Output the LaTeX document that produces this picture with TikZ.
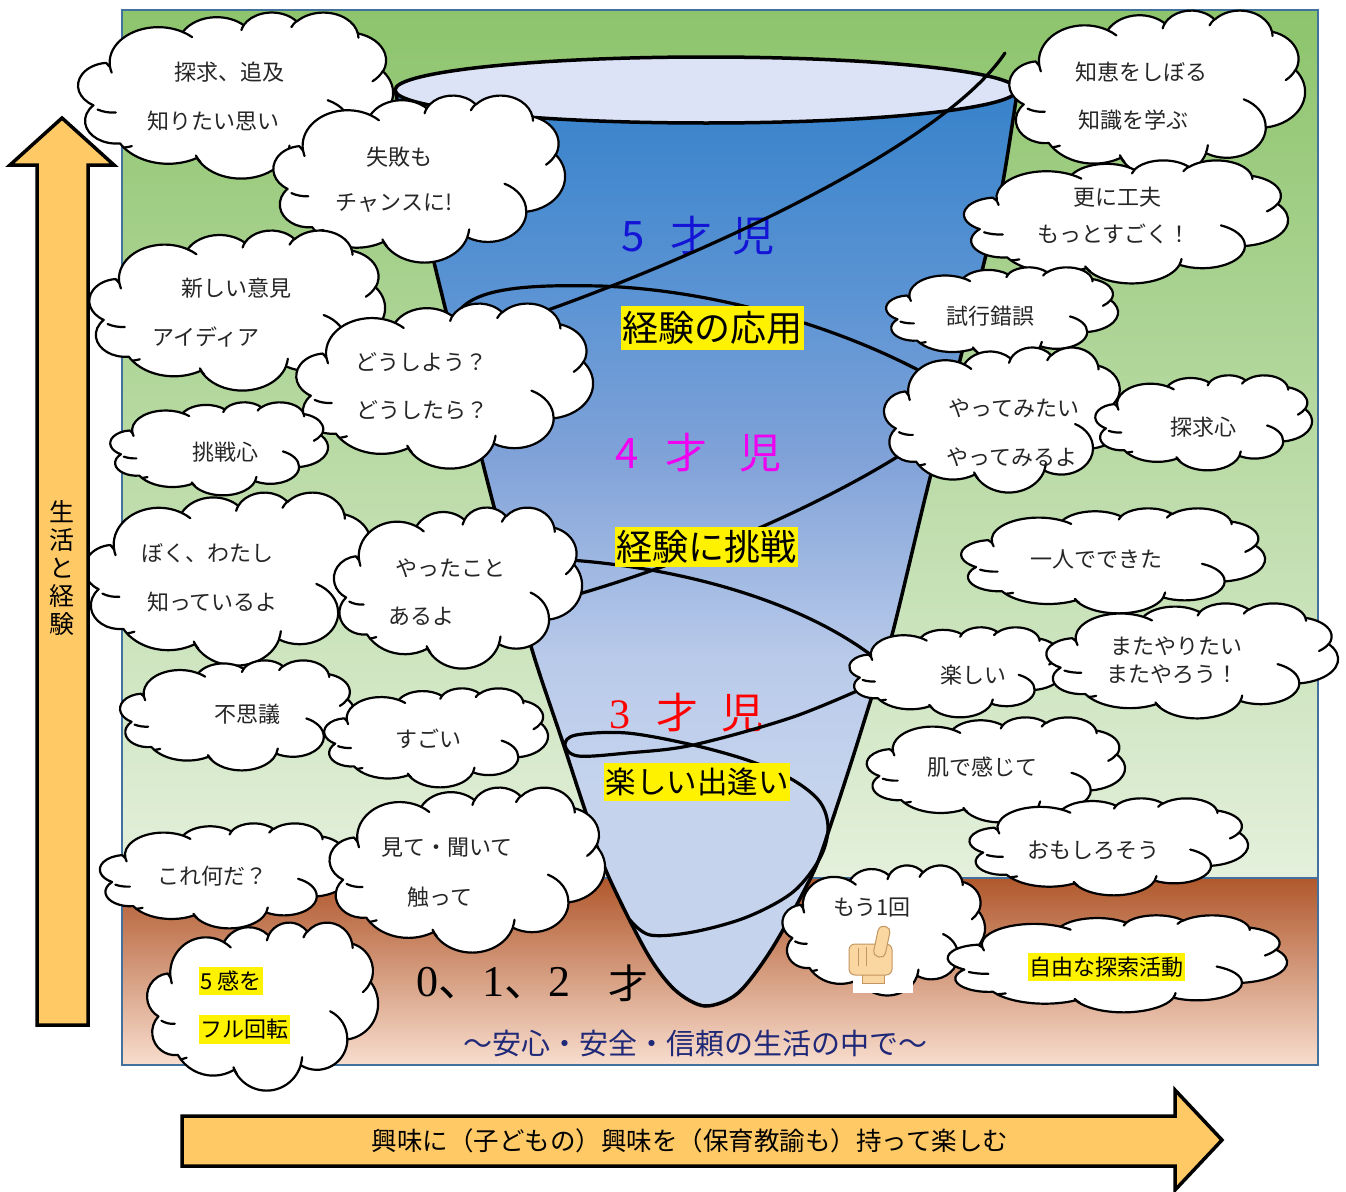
\documentclass[tikz,border=0pt]{standalone}
\usepackage{fontspec}
\setmainfont{Noto Sans CJK JP}
\newfontfamily\digitserif{Liberation Serif}

\definecolor{gTop}{RGB}{141,196,108}
\definecolor{gBot}{RGB}{228,240,220}
\definecolor{bTop}{RGB}{176,88,44}
\definecolor{bMid}{RGB}{216,154,122}
\definecolor{bBot}{RGB}{248,221,206}
\definecolor{frameblue}{RGB}{65,113,156}
\definecolor{fT}{RGB}{55,130,202}
\definecolor{fA}{RGB}{92,148,212}
\definecolor{fB}{RGB}{128,162,216}
\definecolor{fC}{RGB}{185,202,234}
\definecolor{fL}{RGB}{197,211,237}
\definecolor{rimfill}{RGB}{221,227,246}
\definecolor{arrowfill}{RGB}{255,201,102}
\definecolor{calmnavy}{RGB}{32,40,120}
\definecolor{agefive}{RGB}{20,20,215}
\definecolor{agefour}{RGB}{240,0,240}
\definecolor{agethree}{RGB}{255,0,0}
\definecolor{skin}{RGB}{250,214,160}
\definecolor{skinline}{RGB}{196,150,95}

% funnel body: dark blue at the rim, pale towards the tip
\pgfdeclareverticalshading{funnelshade}{100bp}{color(0bp)=(fL); color(37bp)=(fL);
  color(44bp)=(fC); color(55bp)=(fB); color(63.5bp)=(fA); color(75bp)=(fT); color(100bp)=(fT)}

% geometric (visual) angle on an ellipse -> parametric angle
\pgfmathdeclarefunction{vang}{3}{%
  \pgfmathparse{atan2((#2)*sin(#1),(#3)*cos(#1))}%
  \let\vangraw\pgfmathresult
  \pgfmathparse{\vangraw+360*round(((#1)-\vangraw)/360)}%
}
% one puff of a cloud: radii, start angle, sweep (degrees)
\newcommand\carc[4]{arc[start angle={vang(#3,#1,#2)},end angle={vang(#3+#4,#1,#2)},x radius=#1pt,y radius=#2pt]}

% cloud outline in a unit box: centre x, centre y, width, height
\newcommand\cloudat[4]{%
  \begin{scope}[shift={(#1,#2)},xscale=#3,yscale=-#4]
    \path[cloudbody] (-0.40972,-0.16736)
      \carc{0.15632}{0.21273}{-190.4875}{123.7805}
      \carc{0.12345}{0.16822}{-144.1024}{89.9452}
      \carc{0.10104}{0.13762}{-145.8079}{99.7230}
      \carc{0.11243}{0.15266}{-130.9861}{117.2417}
      \carc{0.12345}{0.16836}{-78.7089}{109.0269}
      \carc{0.15683}{0.21343}{-46.2673}{130.2690}
      \carc{0.13391}{0.18211}{0.6250}{114.0333}
      \carc{0.15630}{0.21331}{22.4638}{125.4306}
      \carc{0.17870}{0.24405}{66.2403}{75.7160}
      \carc{0.10093}{0.13699}{-274.9421}{146.7356}
      \carc{0.10058}{0.13762}{-246.8285}{152.5189}
      -- cycle;
    \path[cloudcrease]
      (-0.39136,0.10595) \carc{0.10058}{0.13762}{86.7420}{26.4295}
      (-0.33963,0.30785) \carc{0.10093}{0.13699}{73.6105}{11.4475}
      (-0.11856,0.40486) \carc{0.15630}{0.21331}{137.6242}{14.0811}
      (0.16729,0.30442) \carc{0.15630}{0.21331}{6.4533}{15.9984}
      (0.29002,0.03134) \carc{0.13391}{0.18211}{-70.2924}{70.7808}
      (0.46755,-0.14458) \carc{0.12345}{0.16836}{30.3180}{27.7515}
      (0.38713,-0.37440) \carc{0.11243}{0.15266}{-13.7443}{14.8589}
      (0.17310,-0.40852) \carc{0.11243}{0.15266}{-149.1815}{18.1954}
      (0.01252,-0.39074) \carc{0.10104}{0.13762}{-163.4943}{17.6864}
      (-0.17593,-0.37981) \carc{0.15632}{0.21273}{-66.7070}{12.3194}
      (-0.40447,-0.13451) \carc{0.15632}{0.21273}{157.6544}{11.8582};
  \end{scope}}

\begin{document}
\begin{tikzpicture}[x=1pt,y=1pt,
  cloudbody/.style={draw=black,fill=white,line width=2.2pt,line join=round},
  cloudcrease/.style={draw=black,line width=2.2pt,line cap=round},
  ctext/.style={font=\fontsize{22}{26}\selectfont,text=black!85,inner sep=0pt},
  hilite/.style={fill=yellow,text=black,inner xsep=1.5pt,inner ysep=4pt},
  spiral/.style={draw=black,line width=3.2pt,line cap=round,line join=round},
  arrowbody/.style={draw=black,fill=arrowfill,line width=3.5pt,line join=miter},
  frame/.style={draw=frameblue,line width=2pt},
  agelabel/.style={anchor=base west,inner sep=0pt,font=\fontsize{42}{42}\selectfont}]

\useasboundingbox (0,0) rectangle (1346,-1191);

% ground: green field and brown soil
\shade[top color=gTop,bottom color=gBot] (122,-10) rectangle (1318,-878);
\path[frame] (122,-10) rectangle (1318,-878);
\shade[top color=bTop,middle color=bMid,bottom color=bBot] (122,-878) rectangle (1318,-1065);
\path[frame] (122,-878) rectangle (1318,-1065);

% funnel
\shadedraw[shading=funnelshade,draw=black,line width=3.5pt,line join=round]
  plot[smooth,tension=0.5] coordinates {(395,-90) (414,-175) (433,-258) (458,-360) (482,-460)
   (508,-560) (533,-653) (563,-743) (585,-810) (607,-873) (647,-953) (675,-990) (705,-1006)
   (738,-993) (773,-947) (813,-873) (830,-827) (852,-760) (873,-693) (892,-635) (927,-490)
   (960,-360) (983,-267) (1002,-187) (1017,-93)} -- cycle;
\filldraw[fill=rimfill,draw=black,line width=3.5pt] (706,-90) ellipse[x radius=311,y radius=33];

% age bands
\node[agelabel,text=agefive] (age5) at (621.5,-251) {5\hspace{25.5pt}才\hspace{20pt}児};
\node[agelabel,text=agefour] (age4) at (615.5,-468) {4\hspace{26.5pt}才\hspace{32pt}児};
\node[agelabel,text=agethree] (age3) at (609.5,-728) {{\digitserif 3}\hspace{25.5pt}才\hspace{23pt}児};

% spiral
\path[spiral] (1005,-53) .. controls (940,-150) and (680,-265) .. (525,-318);
\path[spiral] (452,-330) .. controls (455,-290) and (510,-284) .. (600,-286)
  .. controls (720,-290) and (850,-330) .. (940,-382);
\path[spiral] (905,-452) .. controls (830,-500) and (700,-560) .. (565,-598);
\path[spiral] (570,-560) .. controls (680,-568) and (800,-600) .. (875,-658);
\path[spiral] plot[smooth,tension=0.55] coordinates {(875,-683) (793,-717) (693,-745) (627,-753)
  (578,-756) (565,-745) (576,-735) (627,-733) (693,-745) (750,-761) (793,-780) (820,-802)
  (828,-828) (820,-858) (793,-892) (747,-917) (693,-932) (650,-935) (630,-920)};

\node[hilite,font=\fontsize{36}{36}\selectfont,inner ysep=5pt] (stage5) at (712,-328) {経験の応用};
\node[hilite,font=\fontsize{36}{36}\selectfont,inner ysep=3pt] (stage4) at (706,-547) {経験に挑戦};
\node[hilite,font=\fontsize{30.5}{30.5}\selectfont,inner ysep=5pt] (stage3) at (697,-782) {楽しい出逢い};

% left clouds
\cloudat{237.5}{-95}{311}{166}
\node[ctext] (t1a) at (229,-72) {探求、追及};
\node[ctext] (t1b) at (213.5,-121) {知りたい思い};
\cloudat{421}{-178.5}{288}{167}
\node[ctext] (t2a) at (399.5,-157) {失敗も};
\node[ctext] (t2b) at (394,-203) {チャンスに!};
\cloudat{239}{-310}{292}{160}
\node[ctext] (t3a) at (236.5,-288) {新しい意見};
\node[ctext] (t3b) at (206,-337) {アイディア};
\cloudat{446.5}{-385.5}{293}{165}
\node[ctext] (t4a) at (421,-362) {どうしよう？};
\node[ctext] (t4b) at (422.5,-410) {どうしたら？};
\cloudat{220.5}{-448.5}{215}{93}
\node[ctext] (t5) at (225,-452) {挑戦心};
\cloudat{232.5}{-578.5}{289}{173}
\node[ctext] (t6a) at (207.5,-553) {ぼく、わたし};
\node[ctext] (t6b) at (212.5,-602) {知っているよ};
\cloudat{459.5}{-587.5}{245}{161}
\node[ctext] (t7a) at (450,-568) {やったこと};
\node[ctext] (t7b) at (421.5,-616) {あるよ};
\cloudat{239}{-715}{232}{110}
\node[ctext] (t8) at (247.5,-714) {不思議};
\cloudat{437.5}{-737.5}{221}{99}
\node[ctext] (t9) at (428,-739) {すごい};
\cloudat{226.5}{-875.5}{247}{105}
\node[ctext] (t10) at (212.5,-876) {これ何だ？};
\cloudat{264}{-1006}{228}{168}
\node[ctext,hilite,anchor=west] (t12a) at (199,-981) {5 感を};
\node[ctext,hilite,anchor=west] (t12b) at (199,-1029.5) {フル回転};
\cloudat{469}{-869.5}{272}{165}
\node[ctext] (t11a) at (447,-848) {見て・聞いて};
\node[ctext] (t11b) at (440,-897) {触って};

% right clouds
\cloudat{1159}{-94}{292}{168}
\node[ctext] (t13a) at (1141,-72) {知恵をしぼる};
\node[ctext] (t13b) at (1133,-120) {知識を学ぶ};
\cloudat{1128}{-221.5}{320}{123}
\node[ctext] (t14a) at (1117.5,-197) {更に工夫};
\node[ctext] (t14b) at (1114,-234) {もっとすごく！};
\cloudat{1003.5}{-313.5}{229}{93}
\node[ctext] (t15) at (990.5,-316) {試行錯誤};
\cloudat{1006}{-419.5}{238}{145}
\node[ctext] (t16a) at (1014,-408) {やってみたい};
\node[ctext] (t16b) at (1012,-457) {やってみるよ};
\cloudat{1205}{-422.5}{214}{95}
\node[ctext] (t17) at (1203,-427) {探求心};
\cloudat{1115}{-560.5}{300}{105}
\node[ctext] (t18) at (1096,-559) {一人でできた};
\cloudat{957.5}{-672}{211}{90}
\node[ctext] (t19) at (973,-675) {楽しい};
\cloudat{1194}{-660.5}{288}{115}
\node[ctext] (t20a) at (1176,-646) {またやりたい};
\node[ctext] (t20b) at (1172,-674) {またやろう！};
\cloudat{997.5}{-769.5}{255}{105}
\node[ctext] (t21) at (982.5,-767) {肌で感じて};
\cloudat{1110.5}{-846.5}{275}{97}
\node[ctext] (t22) at (1093.5,-850) {おもしろそう};
\cloudat{885}{-930}{200}{130}
\fill[white] (853,-925) rectangle (913,-993);
\node[ctext] (t23) at (872,-908) {もう1回};
% pointing hand
\filldraw[fill=skin,draw=skinline,line width=1pt] (862,-970) rectangle (884,-983);
\filldraw[fill=skin,draw=skinline,line width=1pt,rounded corners=6pt] (849,-944) rectangle (892,-975);
\filldraw[fill=skin,draw=skinline,line width=1pt,rounded corners=5pt,rotate around={-12:(880,-950)}] (874,-926) rectangle (886,-957);
\draw[skinline,line width=0.8pt] (858,-948) -- (858,-966) (866,-947) -- (866,-966);
\cloudat{1119.5}{-963.5}{335}{97}
\node[ctext,hilite] (t24) at (1106,-967) {自由な探索活動};

% bottom captions
\node[inner sep=0pt,font=\fontsize{44}{44}\selectfont] (age0) at (493,-983)
  {{\digitserif 0}、{\digitserif 1}、{\digitserif 2}};
\node[inner sep=0pt,font=\fontsize{40}{40}\selectfont] (age0b) at (628,-983) {才};
\node[inner sep=0pt,text=calmnavy,font=\fontsize{29}{29}\selectfont] (motto) at (695,-1043)
  {～安心・安全・信頼の生活の中で～};

% arrows
\path[arrowbody] (37,-1025) -- (37,-165) -- (10,-165) -- (62,-118) -- (114,-165) -- (88,-165) -- (88,-1025) -- cycle;
\node[align=center,inner sep=0pt,font=\fontsize{25}{28}\selectfont] (vtext) at (62,-568) {生\\活\\と\\経\\験};
\path[arrowbody] (182,-1116) -- (1175,-1116) -- (1175,-1090) -- (1222,-1140) -- (1175,-1190) -- (1175,-1166) -- (182,-1166) -- cycle;
\node[inner sep=0pt,font=\fontsize{25.5}{26}\selectfont] (htext) at (690,-1141)
  {興味に（子どもの）興味を（保育教諭も）持って楽しむ};
\end{tikzpicture}
\end{document}
